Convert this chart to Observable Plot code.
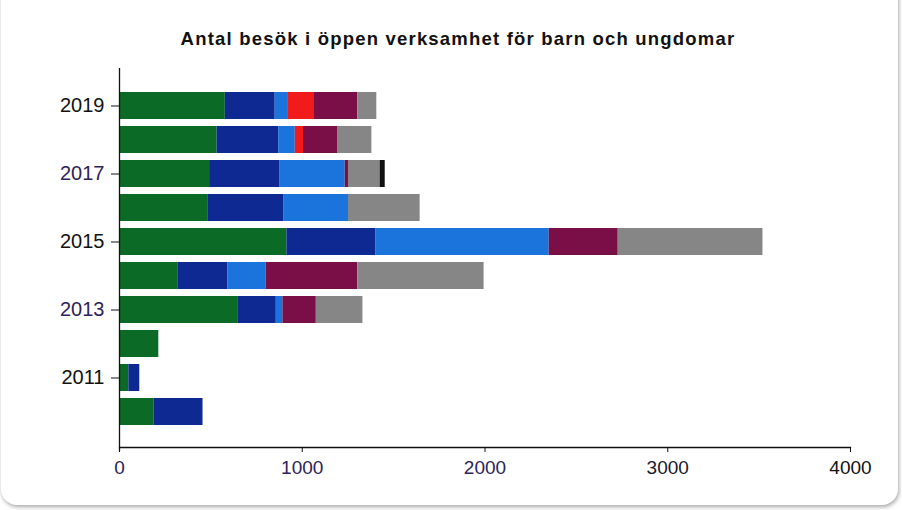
<!DOCTYPE html>
<html>
<head>
<meta charset="utf-8">
<script src="https://cdn.jsdelivr.net/npm/d3@7"></script>
<script src="https://cdn.jsdelivr.net/npm/@observablehq/plot@0.6"></script>
<style>
  html, body { margin: 0; padding: 0; background: #ffffff; width: 902px; height: 510px; overflow: hidden; }
  #card { position: absolute; left: 1px; top: -20px; width: 897px; height: 525px; border-radius: 16px;
          box-shadow: 1px 2px 4px rgba(0,0,0,0.35); background: #fff; }
  #title { position: absolute; left: 0; top: 28px; width: 916px; text-align: center;
           font-family: "Liberation Sans", Arial, sans-serif; font-weight: bold; font-size: 18.5px;
           letter-spacing: 1.2px; color: #111; }
  #chart { position: absolute; left: 0; top: 62px; }
</style>
</head>
<body>
<div id="card"></div>
<div id="title">Antal besök i öppen verksamhet för barn och ungdomar</div>
<div id="chart"></div>
<script>
const years = ["2010","2011","2012","2013","2014","2015","2016","2017","2018","2019"];
const seriesNames = ["Serie 1","Serie 2","Serie 3","Serie 4","Serie 5","Serie 6","Serie 7"];
const serie1 = [188, 51, 215, 647, 319, 916, 483, 493, 534, 579];
const serie2 = [269, 60, 0, 211, 273, 488, 415, 383, 337, 273];
const serie3 = [0, 0, 0, 36, 210, 947, 355, 359, 91, 68];
const serie4 = [0, 0, 0, 0, 0, 0, 0, 0, 45, 147];
const serie5 = [0, 0, 0, 183, 502, 378, 0, 18, 186, 237];
const serie6 = [0, 0, 0, 255, 691, 792, 392, 173, 188, 104];
const serie7 = [0, 0, 0, 0, 0, 0, 0, 28, 0, 0];
const seriesColors = ["#0b6a26", "#0e2a92", "#1a74dc", "#f21b1b", "#7a0f48", "#868686", "#111111"];
const yTickLabels = ["2011","2013","2015","2017","2019"];
const xTicks = [0, 1000, 2000, 3000, 4000];

const allSeries = [serie1, serie2, serie3, serie4, serie5, serie6, serie7];
const rows = [];
allSeries.forEach((vals, si) => {
  vals.forEach((v, yi) => {
    if (v > 0) rows.push({year: years[yi], series: seriesNames[si], value: v});
  });
});

const chart = Plot.plot({
  width: 902,
  height: 448,
  marginLeft: 119,
  marginRight: 52,
  marginTop: 6,
  marginBottom: 63,
  style: {fontFamily: "'Liberation Sans', Arial, sans-serif", fontSize: "19px", background: "transparent"},
  x: {domain: [0, 4000], ticks: xTicks, tickFormat: d => String(d)},
  y: {domain: years.slice().reverse(), paddingInner: 0.21, paddingOuter: 0.5, insetTop: 6, insetBottom: 4.4},
  color: {domain: seriesNames, range: seriesColors},
  marks: [
    Plot.barX(rows, Plot.stackX({y: "year", x: "value", fill: "series", z: "series", order: null})),
    Plot.axisX({ticks: xTicks, tickFormat: d => String(d), tickSize: 5, tickPadding: 8, stroke: "#111", label: null, fontSize: 19}),
    Plot.axisY({ticks: yTickLabels, tickSize: 8, tickPadding: 7, stroke: "#111", label: null, fontSize: 20}),
    Plot.frame({anchor: "bottom", stroke: "#111", strokeWidth: 1.3}),
    Plot.ruleX([0], {stroke: "#111", strokeWidth: 1.3, insetBottom: -4}),
  ]
});
document.getElementById("chart").appendChild(chart);

const labelColors = {"2019":"#111","2017":"#2e2358","2015":"#111","2013":"#2e2358","2011":"#111",
  "0":"#2e2358","1000":"#2e2358","2000":"#2e2358","3000":"#1a1a2a","4000":"#111"};
d3.select(chart).selectAll("text").each(function() {
  const t = this.textContent.trim();
  if (labelColors[t]) d3.select(this).attr("fill", labelColors[t]);
});
</script>
</body>
</html>
